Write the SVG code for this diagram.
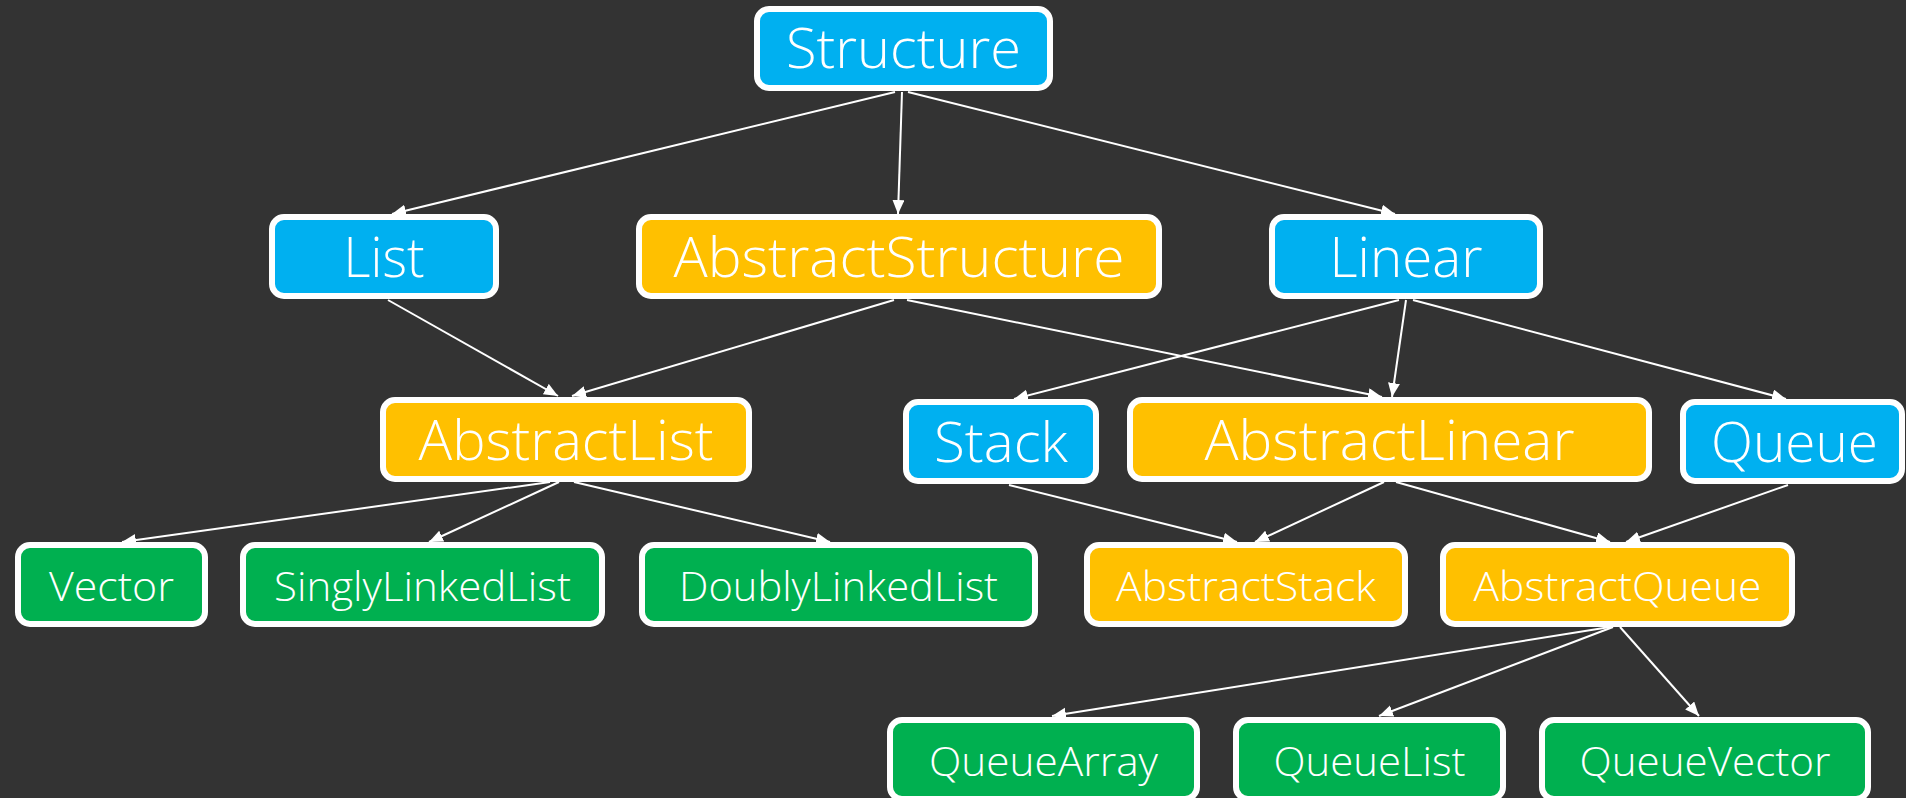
<svg xmlns="http://www.w3.org/2000/svg" width="1906" height="798" viewBox="0 0 1906 798">
<defs>
<marker id="arr" markerUnits="userSpaceOnUse" markerWidth="16" markerHeight="14" refX="14" refY="6" orient="auto">
<path d="M0,0 L14,6 L0,12 Z" fill="#ffffff"/>
</marker>
<style>
.bg{fill:#333333}
rect.n{stroke:#ffffff;stroke-width:6}
.blue{fill:#00B0F0}
.orange{fill:#FFC000}
.green{fill:#00B050}
text{font-family:"Open Sans","Liberation Sans",sans-serif;font-weight:300;fill:#ffffff;text-anchor:middle}
.big{font-size:55px}
.small{font-size:41px}
.edges line{stroke:#ffffff;stroke-width:2;marker-end:url(#arr)}
</style>
</defs>
<rect class="bg" x="0" y="0" width="1906" height="798"/>
<g class="edges">
<line x1="895" y1="92" x2="392" y2="214"/>
<line x1="902" y1="92" x2="898" y2="214"/>
<line x1="908" y1="92" x2="1395" y2="214"/>
<line x1="388" y1="300" x2="558" y2="396"/>
<line x1="894" y1="300" x2="572" y2="396"/>
<line x1="907" y1="300" x2="1382" y2="397"/>
<line x1="1399" y1="300" x2="1014" y2="399"/>
<line x1="1406" y1="300" x2="1392" y2="397"/>
<line x1="1413" y1="300" x2="1786" y2="399"/>
<line x1="550" y1="482" x2="122" y2="542"/>
<line x1="559" y1="482" x2="429" y2="542"/>
<line x1="574" y1="482" x2="830" y2="542"/>
<line x1="1009" y1="485" x2="1237" y2="542"/>
<line x1="1384" y1="482" x2="1255" y2="542"/>
<line x1="1396" y1="482" x2="1610" y2="542"/>
<line x1="1788" y1="485" x2="1626" y2="542"/>
<line x1="1610" y1="627" x2="1052" y2="716"/>
<line x1="1613" y1="627" x2="1379" y2="716"/>
<line x1="1620" y1="627" x2="1699" y2="716"/>
</g>
<g id="Structure"><rect class="n blue" x="757" y="9" width="293" height="79" rx="12"/><text class="big" x="903.5" y="68" textLength="235" lengthAdjust="spacingAndGlyphs">Structure</text></g>
<g id="List"><rect class="n blue" x="272" y="217" width="224" height="79" rx="12"/><text class="big" x="384" y="277" textLength="81" lengthAdjust="spacingAndGlyphs">List</text></g>
<g id="AbstractStructure"><rect class="n orange" x="639" y="217" width="520" height="79" rx="12"/><text class="big" x="899" y="277" textLength="451" lengthAdjust="spacingAndGlyphs">AbstractStructure</text></g>
<g id="Linear"><rect class="n blue" x="1272" y="217" width="268" height="79" rx="12"/><text class="big" x="1406" y="277" textLength="153" lengthAdjust="spacingAndGlyphs">Linear</text></g>
<g id="AbstractList"><rect class="n orange" x="383" y="400" width="366" height="79" rx="12"/><text class="big" x="566" y="460" textLength="295" lengthAdjust="spacingAndGlyphs">AbstractList</text></g>
<g id="Stack"><rect class="n blue" x="906" y="402" width="190" height="79" rx="12"/><text class="big" x="1001" y="462" textLength="134" lengthAdjust="spacingAndGlyphs">Stack</text></g>
<g id="AbstractLinear"><rect class="n orange" x="1130" y="400" width="519" height="79" rx="12"/><text class="big" x="1389.5" y="460" textLength="370" lengthAdjust="spacingAndGlyphs">AbstractLinear</text></g>
<g id="Queue"><rect class="n blue" x="1683" y="402" width="219" height="79" rx="12"/><text class="big" x="1794.5" y="462" textLength="167" lengthAdjust="spacingAndGlyphs">Queue</text></g>
<g id="Vector"><rect class="n green" x="18" y="545" width="187" height="79" rx="12"/><text class="small" x="111.5" y="601" textLength="125" lengthAdjust="spacingAndGlyphs">Vector</text></g>
<g id="SinglyLinkedList"><rect class="n green" x="243" y="545" width="359" height="79" rx="12"/><text class="small" x="422.5" y="601" textLength="297" lengthAdjust="spacingAndGlyphs">SinglyLinkedList</text></g>
<g id="DoublyLinkedList"><rect class="n green" x="642" y="545" width="393" height="79" rx="12"/><text class="small" x="838.5" y="601" textLength="319" lengthAdjust="spacingAndGlyphs">DoublyLinkedList</text></g>
<g id="AbstractStack"><rect class="n orange" x="1087" y="545" width="318" height="79" rx="12"/><text class="small" x="1246" y="601" textLength="260" lengthAdjust="spacingAndGlyphs">AbstractStack</text></g>
<g id="AbstractQueue"><rect class="n orange" x="1443" y="545" width="349" height="79" rx="12"/><text class="small" x="1617.5" y="601" textLength="288" lengthAdjust="spacingAndGlyphs">AbstractQueue</text></g>
<g id="QueueArray"><rect class="n green" x="890" y="720" width="307" height="79" rx="12"/><text class="small" x="1043.5" y="776" textLength="229" lengthAdjust="spacingAndGlyphs">QueueArray</text></g>
<g id="QueueList"><rect class="n green" x="1236" y="720" width="267" height="79" rx="12"/><text class="small" x="1369.5" y="776" textLength="192" lengthAdjust="spacingAndGlyphs">QueueList</text></g>
<g id="QueueVector"><rect class="n green" x="1542" y="720" width="326" height="79" rx="12"/><text class="small" x="1705" y="776" textLength="251" lengthAdjust="spacingAndGlyphs">QueueVector</text></g>
</svg>
